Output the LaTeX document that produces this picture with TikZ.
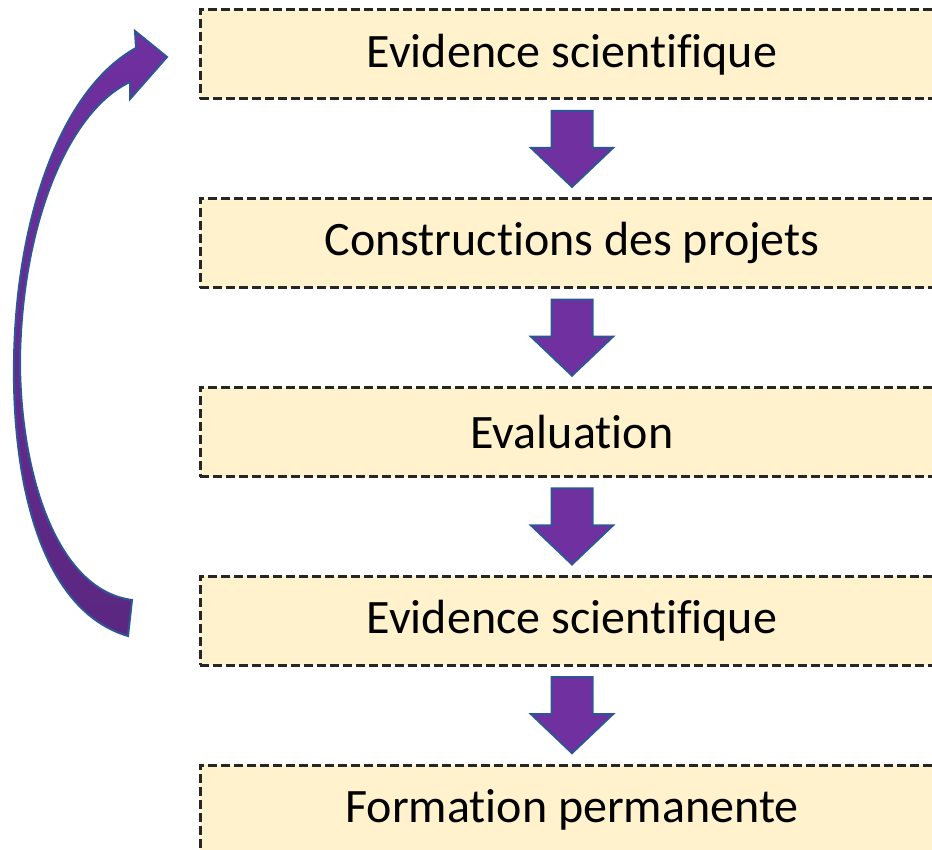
\documentclass[tikz,border=0pt]{standalone}
\usepackage{fontspec}
\setmainfont{Carlito}[Ligatures=CommonOff]
\usetikzlibrary{positioning, calc}

\definecolor{boxFill}{HTML}{FFF2CC}
\definecolor{boxLine}{HTML}{262626}
\definecolor{arrowFill}{HTML}{7030A0}
\definecolor{arrowDark}{HTML}{5A2780}
\definecolor{arrowLine}{HTML}{2F5597}

\begin{document}
\begin{tikzpicture}[
        x=1pt, y=-1pt,
        node distance=188.75pt,
        stepBox/.style={
            rectangle, draw=boxLine, line width=3pt,
            dash pattern=on 9pt off 4pt, fill=boxFill,
            minimum width=744pt, minimum height=89pt, inner sep=0pt,
            font=\fontsize{48}{56}\selectfont
        },
        arrowBody/.style={
            fill=arrowFill, draw=arrowLine, line width=2pt, line join=miter
        },
        downArrow/.pic={
            \draw [arrowBody] (-20.5,-38) -- (20.5,-38) -- (20.5,-1) -- (41,-1)
                -- (0,38) -- (-41,-1) -- (-20.5,-1) -- cycle;
        }
    ]
        \clip (0,0) rectangle (932,850);

        % Nodes
        \node (step1) [stepBox] at (572,54.5) {Evidence scientifique};
        \node (step2) [stepBox, below of=step1] {Constructions des projets};
        \node (step3) [stepBox, below of=step2] {Evaluation};
        \node (step4) [stepBox, below of=step3] {Evidence scientifique};
        \node (step5) [stepBox, below of=step4] {Formation permanente};

        % Arrows
        \pic at ($(step1.south)!0.5!(step2.north)$) {downArrow};
        \pic at ($(step2.south)!0.5!(step3.north)$) {downArrow};
        \pic at ($(step3.south)!0.5!(step4.north)$) {downArrow};
        \pic at ($(step4.south)!0.5!(step5.north)$) {downArrow};

        % Loop back arrow
        \shade [top color=arrowFill, bottom color=arrowDark, draw=arrowLine, line width=2pt]
            (128,636) .. controls (40,610) and (12,480) .. (14,360)
            .. controls (16,220) and (60,90) .. (136,48)
            -- (135,31) -- (167,57) -- (130,99) -- (130,82)
            .. controls (70,110) and (22,220) .. (20,360)
            .. controls (20,470) and (55,590) .. (132,600) -- cycle;
    \end{tikzpicture}
\end{document}
